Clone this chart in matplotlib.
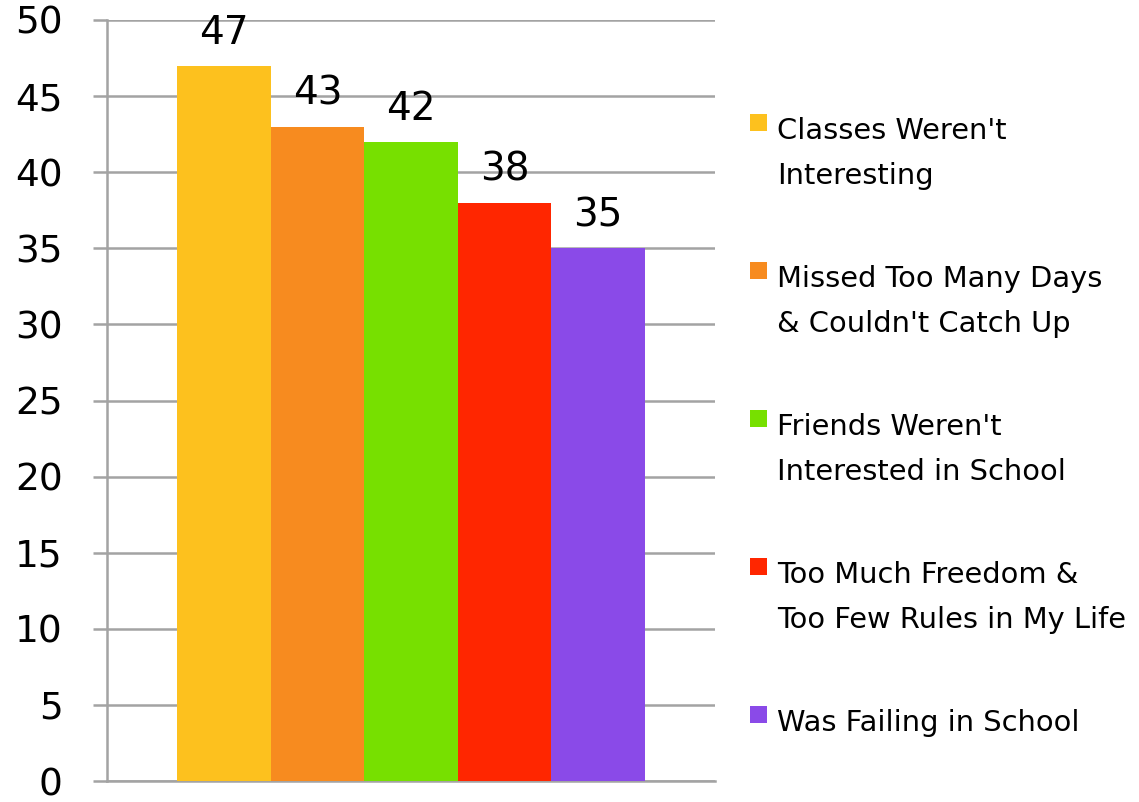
import matplotlib
matplotlib.use('Agg')
import matplotlib.pyplot as plt
from matplotlib.patches import Rectangle

# data
reasons = ["Classes Weren't\nInteresting",
           "Missed Too Many Days\n& Couldn't Catch Up",
           "Friends Weren't\nInterested in School",
           "Too Much Freedom &\nToo Few Rules in My Life",
           "Was Failing in School"]
values = [47, 43, 42, 38, 35]
colors = ['#FDC11E', '#F78B1F', '#77E000', '#FF2600', '#8A4AE8']
yticks = list(range(0, 51, 5))

plt.rcParams['font.family'] = ['DejaVu Sans']

W, H = 1139, 802
fig = plt.figure(figsize=(W / 100, H / 100), dpi=100)
ax = fig.add_axes([107 / W, 1 - 781 / H, 608 / W, 761 / H])

x = list(range(len(values)))
bars = ax.bar(x, values, width=1.0, color=colors, zorder=3)

# value labels
for xi, v in zip(x, values):
    ax.annotate(str(v), (xi, v), xytext=(0, 10), textcoords='offset points',
                ha='center', va='bottom', fontsize=28, zorder=4)

ax.set_xlim(-1.248, 5.248)
ax.set_ylim(0, 50)
ax.set_yticks(yticks)
ax.set_xticks([])
ax.yaxis.grid(True, color='#A3A3A3', linewidth=1.8, zorder=0)
ax.tick_params(axis='y', length=10, width=1.8, color='#A3A3A3',
               pad=22, labelsize=27)
for s in ['top', 'right']:
    ax.spines[s].set_visible(False)
for s in ['left', 'bottom']:
    ax.spines[s].set_color('#A3A3A3')
    ax.spines[s].set_linewidth(1.8)

# legend drawn by hand so the swatch sits next to the first line
base = 139
step = 148
for i, (lab, c) in enumerate(zip(reasons, colors)):
    yb = base + i * step
    for j, line in enumerate(lab.split('\n')):
        fig.text(777 / W, 1 - (yb + j * 45) / H, line, fontsize=20.8,
                 va='baseline', ha='left')
    fig.patches.append(Rectangle((750 / W, 1 - (yb - 8) / H), 17 / W, 17 / H,
                                 transform=fig.transFigure,
                                 facecolor=c, edgecolor='none'))

fig.savefig('out.png', dpi=100)
